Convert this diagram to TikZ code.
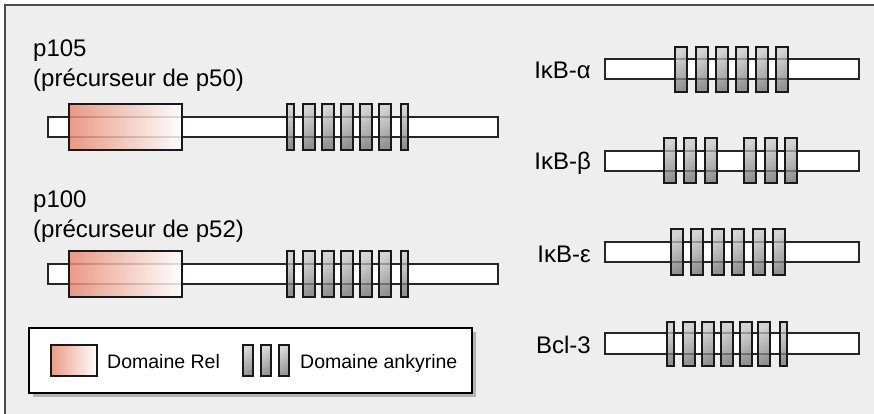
\documentclass[tikz,border=0pt]{standalone}
\usepackage{fontspec}
\setmainfont{Liberation Sans}
\usetikzlibrary{shadows}

\definecolor{relred}{RGB}{232,138,115}
\definecolor{panelgray}{RGB}{238,238,238}

\tikzset{
  chain/.style={draw=black!85, line width=1.4pt, fill=white},
  reldom/.style={draw=black!90, line width=1.2pt, left color=relred, right color=white, fill opacity=.85},
  ankdom/.style={draw=black!90, line width=1.2pt, top color=gray!40, bottom color=black!55, shading angle=35, fill opacity=.75},
  lab/.style={font=\fontsize{24}{28}\selectfont, inner sep=0pt},
  leglab/.style={font=\fontsize{19.5}{22}\selectfont, inner sep=0pt}
}

\begin{document}
\begin{tikzpicture}[x=1pt, y=-1pt]
	% cadre
	\useasboundingbox (0,0) rectangle (874,413);
	\draw[draw=black!70, line width=2pt, fill=panelgray] (5,5) rectangle (890,430);
	
	% p105
	\node[lab, anchor=base west] (p105) at (33,56) {p105};
	\node[lab, anchor=base west] (p105pre) at (33,86) {(précurseur de p50)};
	\draw[chain] (48,117) rectangle (498,137);
	\draw[reldom] (69,104) rectangle (182,150);
	\foreach \x/\w in {287/7, 303/12, 322/12, 341/12, 360/12, 379/12, 401/7}
		\draw[ankdom] (\x,104) rectangle ++(\w,46);
	
	% p100
	\node[lab, anchor=base west] (p100) at (33,207) {p100};
	\node[lab, anchor=base west] (p100pre) at (33,237) {(précurseur de p52)};
	\draw[chain] (48,264) rectangle (498,284);
	\draw[reldom] (69,251) rectangle (182,297);
	\foreach \x/\w in {287/7, 303/12, 322/12, 341/12, 360/12, 379/12, 401/7}
		\draw[ankdom] (\x,251) rectangle ++(\w,46);
	
	% IkB-alpha
	\node[lab, anchor=base east] (ikba) at (591,78) {IκB-α};
	\draw[chain] (605,59) rectangle (859,79);
	\foreach \x in {675,696,716,736,756,776}
		\draw[ankdom] (\x,47) rectangle ++(12,45);
	
	% IkB-beta
	\node[lab, anchor=base east] (ikbb) at (591,169) {IκB-β};
	\draw[chain] (605,151) rectangle (859,171);
	\foreach \x in {664,684,705,744,765,785}
		\draw[ankdom] (\x,138) rectangle ++(12,45);
	
	% IkB-epsilon
	\node[lab, anchor=base east] (ikbe) at (591,262) {IκB-ε};
	\draw[chain] (605,242) rectangle (859,262);
	\foreach \x in {671,691,712,732,753,773}
		\draw[ankdom] (\x,229) rectangle ++(12,46);
	
	% Bcl-3
	\node[lab, anchor=base east] (bcl3) at (591,353) {Bcl-3};
	\draw[chain] (605,333) rectangle (859,354);
	\foreach \x/\w in {667/7, 683/12, 702/12, 721/12, 740/12, 758/12, 780/7}
		\draw[ankdom] (\x,322) rectangle ++(\w,44);
	
	% legende
	\draw[draw=black, line width=1.2pt, fill=white, drop shadow={shadow xshift=4pt, shadow yshift=-4pt, fill=black!45, opacity=.6}] (29,328) rectangle (472,393);
	\draw[reldom] (51,345) rectangle (97,376);
	\node[leglab, anchor=base west] (legrel) at (107,368) {Domaine Rel};
	\foreach \x in {243,261,279}
		\draw[ankdom] (\x,345) rectangle ++(10,31);
	\node[leglab, anchor=base west] (legank) at (300,368) {Domaine ankyrine};
\end{tikzpicture}
\end{document}
